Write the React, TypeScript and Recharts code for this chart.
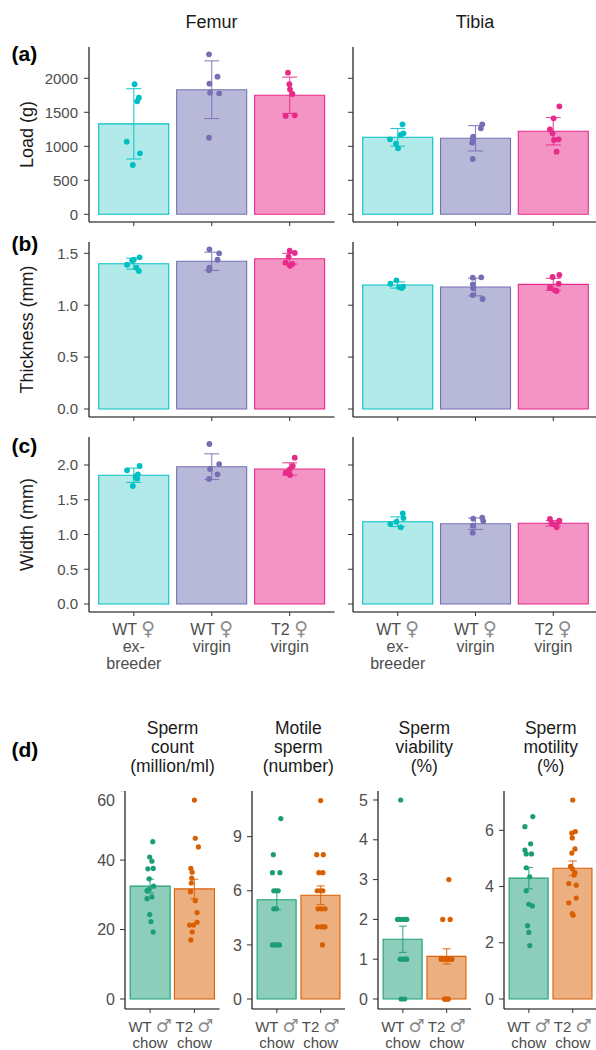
import React from 'react';
import { ComposedChart, Bar, Cell, XAxis, YAxis, Scatter, ErrorBar } from 'recharts';

const FONT = '"Liberation Sans", Arial, Helvetica, sans-serif';
const SYM_FONT = '"DejaVu Sans", sans-serif';
const TICK_GREY = '#4d4d4d';

// ---- bone panels (a)-(c) ----
const boneGroups = ['WT ♀\nex-\nbreeder', 'WT ♀\nvirgin', 'T2 ♀\nvirgin'];
const boneColors = ['#00BFC4', '#7570B3', '#E7298A'];
const boneFills = ['#B2EAEA', '#B8B8D8', '#F394C4'];

const loadFemurMean = [1330, 1832, 1750];
const loadFemurSd = [517, 424, 267];
const loadFemurPts = [
  [1912, 1715, 1662, 1068, 897, 725],
  [2353, 2024, 1921, 1788, 1779, 1126],
  [2082, 1912, 1838, 1769, 1446, 1456],
];
const loadFemurJit = [
  [0.01, 0.065, 0.043, -0.091, 0.078, -0.013],
  [-0.035, 0.074, -0.03, -0.022, 0.095, -0.035],
  [-0.022, -0.004, 0.004, 0.035, -0.052, 0.065],
];

const loadTibiaMean = [1132, 1118, 1221];
const loadTibiaSd = [130, 186, 201];
const loadTibiaPts = [
  [1323, 1191, 1171, 1103, 1039, 970],
  [1323, 1265, 1142, 1113, 1054, 813],
  [1588, 1412, 1250, 1191, 1103, 1093, 921],
];
const loadTibiaJit = [
  [0.061, 0.074, 0.039, -0.1, -0.022, 0.004],
  [0.087, 0.069, -0.03, -0.035, -0.043, -0.035],
  [0.078, 0.004, -0.043, -0.009, 0.069, 0.009, 0.043],
];

const thickFemurMean = [1.4, 1.423, 1.448];
const thickFemurSd = [0.053, 0.088, 0.052];
const thickFemurPts = [
  [1.461, 1.438, 1.43, 1.39, 1.361, 1.329],
  [1.538, 1.5, 1.438, 1.361, 1.336],
  [1.525, 1.503, 1.467, 1.41, 1.397, 1.38],
];
const thickFemurJit = [
  [0.074, 0, -0.022, -0.087, 0.035, 0.065],
  [-0.03, 0.095, 0.074, -0.03, -0.035],
  [0, 0.065, -0.013, -0.052, 0.035, 0.004],
];

const thickTibiaMean = [1.195, 1.175, 1.201];
const thickTibiaSd = [0.03, 0.085, 0.058];
const thickTibiaPts = [
  [1.24, 1.207, 1.18, 1.175, 1.166],
  [1.265, 1.269, 1.201, 1.163, 1.098, 1.06],
  [1.291, 1.272, 1.207, 1.169, 1.143, 1.137],
];
const thickTibiaJit = [
  [-0.017, -0.095, 0.069, 0.017, 0.052],
  [-0.035, 0.074, -0.035, -0.03, -0.035, 0.091],
  [0.078, -0.009, 0.069, -0.043, 0.022, 0.043],
];

const widthFemurMean = [1.852, 1.976, 1.942];
const widthFemurSd = [0.103, 0.185, 0.09];
const widthFemurPts = [
  [1.986, 1.923, 1.866, 1.832, 1.803, 1.698],
  [2.302, 2.014, 1.942, 1.866, 1.799],
  [2.105, 1.986, 1.938, 1.889, 1.88, 1.856],
];
const widthFemurJit = [
  [0.074, -0.087, 0.052, 0.022, 0.043, -0.013],
  [-0.03, 0.095, -0.022, 0.074, -0.035],
  [0.065, 0.039, 0, -0.052, -0.013, 0.004],
];

const widthTibiaMean = [1.184, 1.155, 1.161];
const widthTibiaSd = [0.07, 0.083, 0.04];
const widthTibiaPts = [
  [1.305, 1.237, 1.184, 1.151, 1.103],
  [1.242, 1.227, 1.194, 1.127, 1.026],
  [1.223, 1.199, 1.18, 1.161, 1.147, 1.103],
];
const widthTibiaJit = [
  [0.065, 0.074, -0.017, -0.095, 0.039],
  [0.087, -0.03, 0.1, -0.035, -0.035],
  [-0.043, 0.078, 0.065, -0.022, 0.009, 0.043],
];

// ---- sperm panels (d) ----
const spermGroups = ['WT ♂\nchow', 'T2 ♂\nchow'];
const spermColors = ['#1B9E77', '#D95F02'];
const spermFills = ['#8DCEBB', '#ECAF80'];

const countMean = [32.5, 31.7];
const countSe = [2.0, 2.8];
const countPts = [
  [45.3, 40.9, 39.7, 37.5, 37.6, 34.6, 32.5, 31.6, 31.2, 29.4, 28.9, 24.3, 22.3, 19.3],
  [57.3, 46.3, 43.8, 37.6, 36.5, 34.8, 33.4, 30.9, 28.3, 24.9, 22.1, 21.3, 21.3, 19.3, 17.0],
];
const countJit = [
  [0.06, -0.01, 0.04, -0.05, 0.07, -0.02, 0.08, -0.02, -0.07, 0.04, -0.07, -0.01, 0.02, 0.07],
  [0, 0.02, 0.09, -0.08, -0.05, -0.06, -0.07, -0.09, 0.02, 0.06, 0.06, -0.11, -0.02, -0.05, -0.08],
];

const motileMean = [5.5, 5.75];
const motileSe = [0.55, 0.52];
const motilePts = [
  [10, 8, 7, 7, 6, 6, 6, 5, 5, 3, 3, 3, 3],
  [11, 8, 8, 7, 7, 6, 6, 6, 5, 5, 5, 4, 4, 4, 4, 3],
];
const motileJit = [
  [0.09, -0.08, -0.1, 0.07, -0.07, -0.02, 0.03, -0.07, -0.01, -0.1, -0.05, 0.01, 0.06],
  [0, -0.09, 0.06, -0.04, 0.05, -0.08, -0.01, 0.05, -0.06, 0.02, 0.1, -0.07, 0.02, 0.1, 0.06, 0.04],
];

const viabMean = [1.5, 1.07];
const viabSe = [0.33, 0.19];
const viabPts = [
  [5, 2, 2, 2, 2, 2, 1, 1, 1, 1, 0, 0],
  [3, 2, 2, 1, 1, 1, 1, 1, 1, 1, 0, 0, 0, 0, 0],
];
const viabJit = [
  [-0.05, -0.12, -0.07, 0, 0.06, 0.09, -0.06, 0, 0.06, 0.09, -0.04, 0.04],
  [0.05, -0.09, 0.08, -0.13, -0.08, -0.03, 0.02, 0.06, 0.1, 0.12, -0.05, -0.02, 0.02, 0.04, -0.04],
];

const motilityMean = [4.3, 4.65];
const motilitySe = [0.38, 0.26];
const motilityPts = [
  [6.49, 6.13, 5.52, 5.3, 5.16, 5.16, 4.67, 4.35, 3.85, 3.37, 3.31, 2.61, 2.37, 1.9],
  [7.08, 5.96, 5.9, 5.73, 5.34, 5.19, 4.72, 4.63, 4.5, 4.41, 4.11, 4.05, 3.59, 3.42, 3.04, 2.98],
];
const motilityJit = [
  [0.09, -0.09, 0.04, -0.09, -0.06, 0.06, -0.06, 0.02, -0.06, 0, 0.08, -0.03, 0, 0.02],
  [0, 0.06, -0.02, -0.01, 0.05, -0.02, -0.05, -0.01, 0.05, 0.03, -0.09, 0.08, 0.08, -0.09, -0.01, 0.01],
];

const YAXIS_W = 60;
const XAXIS_H = 70;

// splits a label line so the sex symbols can be drawn bigger and lighter
const renderLine = (line: string) =>
  line.split(/([♀♂])/).filter((s) => s !== '').map((s, k) =>
    s === '♀' || s === '♂' ? (
      <tspan key={k} fontFamily={SYM_FONT} fontSize="1.2em" fill="#8c8c8c">
        {s}
      </tspan>
    ) : (
      <tspan key={k}>{s}</tspan>
    )
  );

const CatTick = (props: any) => {
  const { x, y, payload, font, first, gap } = props;
  const lines = String(payload.value).split('\n');
  return (
    <text x={x} y={y} textAnchor="middle" fill={TICK_GREY} fontSize={font} fontFamily={FONT}>
      {lines.map((l, i) => (
        <tspan key={i} x={x} dy={i === 0 ? first : gap}>
          {renderLine(l)}
        </tspan>
      ))}
    </text>
  );
};

type PanelProps = {
  left: number;
  top: number;
  plotW: number;
  plotH: number;
  cats: string[];
  means: number[];
  errs: number[];
  pts: number[][];
  jit: number[][];
  colors: string[];
  fills: string[];
  domain: [number, number];
  ticks: number[];
  yLabels: boolean;
  xLabels: boolean;
  whisker: number;
  r: number;
  yFont: number;
  xFont: number;
  lineGap: number;
  tickMargin: number;
  decimals?: number;
};

const Panel = (p: PanelProps) => {
  const n = p.cats.length;
  const pad = (p.plotW / (n + 1.2)) * 0.1;
  const rows = p.cats.map((c, i) => ({ name: c, mean: p.means[i] }));
  const errRows = p.cats.map((c, i) => [{ x: i, y: p.means[i], e: p.errs[i] }]);
  const ptRows = p.pts.map((g, i) => g.map((v, j) => ({ x: i + p.jit[i][j], y: v })));
  const fmt = p.yLabels
    ? (v: number) => (p.decimals ? v.toFixed(p.decimals) : String(v))
    : () => '';

  return (
    <div style={{ position: 'absolute', left: p.left - YAXIS_W, top: p.top }}>
      <ComposedChart
        width={YAXIS_W + p.plotW}
        height={p.plotH + XAXIS_H}
        data={rows}
        margin={{ top: 0, right: 0, bottom: 0, left: 0 }}
        barCategoryGap="5%"
      >
        <XAxis
          xAxisId="c"
          dataKey="name"
          type="category"
          height={XAXIS_H}
          interval={0}
          padding={{ left: pad, right: pad }}
          axisLine={{ stroke: '#000', strokeWidth: 1.1 }}
          tickLine={{ stroke: '#333' }}
          tickSize={4}
          tickMargin={2}
          tick={(tp: any) =>
            p.xLabels ? <CatTick {...tp} font={p.xFont} first={17.3} gap={p.lineGap} /> : <g />
          }
        />
        <XAxis
          xAxisId="n"
          dataKey="x"
          type="number"
          domain={[-0.5, n - 0.5]}
          allowDataOverflow
          padding={{ left: pad, right: pad }}
          hide
        />
        <YAxis
          type="number"
          domain={p.domain}
          ticks={p.ticks}
          allowDataOverflow
          width={YAXIS_W}
          axisLine={{ stroke: '#000', strokeWidth: 1.1 }}
          tickLine={{ stroke: '#333' }}
          tickSize={5}
          tickMargin={p.tickMargin}
          tick={{ fill: TICK_GREY, fontSize: p.yFont, fontFamily: FONT }}
          tickFormatter={fmt}
        />
        <Bar xAxisId="c" dataKey="mean" isAnimationActive={false}>
          {rows.map((r, i) => (
            <Cell key={i} fill={p.fills[i]} stroke={p.colors[i]} strokeWidth={1.1} />
          ))}
        </Bar>
        {errRows.map((d, i) => (
          <Scatter
            key={'e' + i}
            xAxisId="n"
            data={d}
            dataKey="y"
            isAnimationActive={false}
            shape={() => <g />}
          >
            <ErrorBar
              dataKey="e"
              direction="y"
              width={p.whisker}
              stroke={p.colors[i]}
              strokeOpacity={0.85}
              strokeWidth={1.1}
              isAnimationActive={false}
            />
          </Scatter>
        ))}
        {ptRows.map((d, i) => (
          <Scatter
            key={'p' + i}
            xAxisId="n"
            data={d}
            dataKey="y"
            isAnimationActive={false}
            shape={(sp: any) => <circle cx={sp.cx} cy={sp.cy} r={p.r} fill={p.colors[i]} />}
          />
        ))}
      </ComposedChart>
    </div>
  );
};

const bone = {
  cats: boneGroups,
  colors: boneColors,
  fills: boneFills,
  whisker: 7.5,
  r: 2.9,
  yFont: 15,
  xFont: 16,
  lineGap: 17,
  tickMargin: 6,
  plotH: 175,
};

const sperm = {
  cats: spermGroups,
  colors: spermColors,
  fills: spermFills,
  whisker: 4,
  r: 2.6,
  yFont: 16,
  xFont: 15,
  lineGap: 16,
  tickMargin: 5,
  plotH: 218,
  top: 791,
  yLabels: true,
  xLabels: true,
};

const spermTitles = [
  { x: 172.5, lines: ['Sperm', 'count', '(million/ml)'] },
  { x: 298.3, lines: ['Motile', 'sperm', '(number)'] },
  { x: 424.3, lines: ['Sperm', 'viability', '(%)'] },
  { x: 550.7, lines: ['Sperm', 'motility', '(%)'] },
];

export default function App() {
  return (
    <div
      style={{
        position: 'absolute',
        left: 0,
        top: 0,
        width: 596,
        height: 1050,
        overflow: 'hidden',
        background: '#fff',
        fontFamily: FONT,
      }}
    >
      {/* row (a) load */}
      <Panel {...bone} left={89} top={47} plotW={245.5} means={loadFemurMean} errs={loadFemurSd}
        pts={loadFemurPts} jit={loadFemurJit} domain={[-113, 2460]} ticks={[0, 500, 1000, 1500, 2000]}
        yLabels xLabels={false} />
      <Panel {...bone} left={352.5} top={47} plotW={245} means={loadTibiaMean} errs={loadTibiaSd}
        pts={loadTibiaPts} jit={loadTibiaJit} domain={[-113, 2460]} ticks={[0, 500, 1000, 1500, 2000]}
        yLabels={false} xLabels={false} />
      {/* row (b) thickness */}
      <Panel {...bone} left={89} top={242} plotW={245.5} means={thickFemurMean} errs={thickFemurSd}
        pts={thickFemurPts} jit={thickFemurJit} domain={[-0.077, 1.609]} ticks={[0, 0.5, 1, 1.5]}
        yLabels xLabels={false} decimals={1} />
      <Panel {...bone} left={352.5} top={242} plotW={245} means={thickTibiaMean} errs={thickTibiaSd}
        pts={thickTibiaPts} jit={thickTibiaJit} domain={[-0.077, 1.609]} ticks={[0, 0.5, 1, 1.5]}
        yLabels={false} xLabels={false} />
      {/* row (c) width */}
      <Panel {...bone} left={89} top={437} plotW={245.5} means={widthFemurMean} errs={widthFemurSd}
        pts={widthFemurPts} jit={widthFemurJit} domain={[-0.115, 2.403]} ticks={[0, 0.5, 1, 1.5, 2]}
        yLabels xLabels decimals={1} />
      <Panel {...bone} left={352.5} top={437} plotW={245} means={widthTibiaMean} errs={widthTibiaSd}
        pts={widthTibiaPts} jit={widthTibiaJit} domain={[-0.115, 2.403]} ticks={[0, 0.5, 1, 1.5, 2]}
        yLabels={false} xLabels />
      {/* row (d) sperm */}
      <Panel {...sperm} left={125.3} plotW={94.5} means={countMean} errs={countSe} pts={countPts}
        jit={countJit} domain={[-2.88, 59.9]} ticks={[0, 20, 40, 60]} />
      <Panel {...sperm} left={251.7} plotW={93.5} means={motileMean} errs={motileSe} pts={motilePts}
        jit={motileJit} domain={[-0.554, 11.53]} ticks={[0, 3, 6, 9]} />
      <Panel {...sperm} left={377.7} plotW={93.5} means={viabMean} errs={viabSe} pts={viabPts}
        jit={viabJit} domain={[-0.251, 5.226]} ticks={[0, 1, 2, 3, 4, 5]} />
      <Panel {...sperm} left={504} plotW={93.6} means={motilityMean} errs={motilitySe} pts={motilityPts}
        jit={motilityJit} domain={[-0.356, 7.4]} ticks={[0, 2, 4, 6]} />

      <svg width={596} height={1050} style={{ position: 'absolute', left: 0, top: 0, pointerEvents: 'none' }}>
        <g fontFamily={FONT} fill="#1a1a1a">
          <text x={211.5} y={28.3} fontSize={18} textAnchor="middle">Femur</text>
          <text x={475} y={28.3} fontSize={18} textAnchor="middle">Tibia</text>
          <text x={11.5} y={61} fontSize={21} fontWeight="bold" fill="#000">(a)</text>
          <text x={11.5} y={251} fontSize={21} fontWeight="bold" fill="#000">(b)</text>
          <text x={11.5} y={453} fontSize={21} fontWeight="bold" fill="#000">(c)</text>
          <text x={11.5} y={757} fontSize={21} fontWeight="bold" fill="#000">(d)</text>
          <text x={33} y={134.5} fontSize={18} textAnchor="middle" transform="rotate(-90 33 134.5)">Load (g)</text>
          <text x={33} y={329.5} fontSize={18} textAnchor="middle" transform="rotate(-90 33 329.5)">Thickness (mm)</text>
          <text x={33} y={524.5} fontSize={18} textAnchor="middle" transform="rotate(-90 33 524.5)">Width (mm)</text>
          {spermTitles.map((t) => (
            <text key={t.x} x={t.x} y={734.3} fontSize={17.5} textAnchor="middle">
              {t.lines.map((l, i) => (
                <tspan key={i} x={t.x} dy={i === 0 ? 0 : 19}>
                  {l}
                </tspan>
              ))}
            </text>
          ))}
        </g>
      </svg>
    </div>
  );
}
